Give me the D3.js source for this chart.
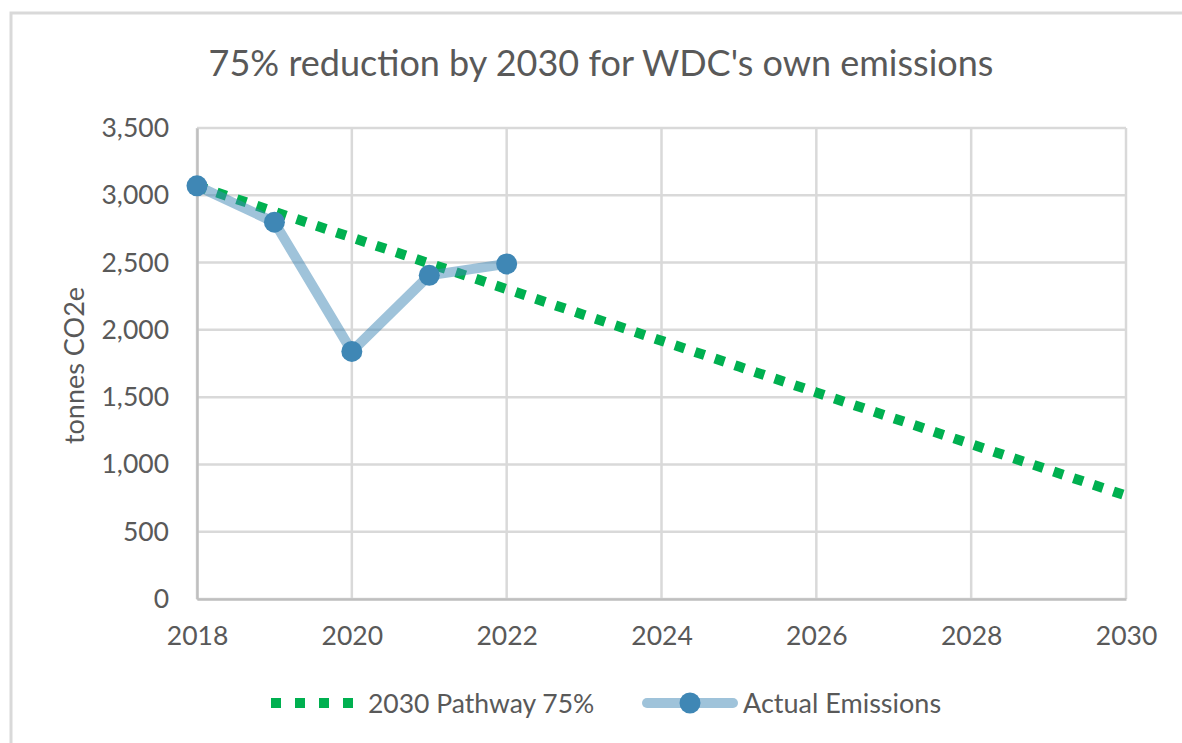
<!DOCTYPE html>
<html><head><meta charset="utf-8">
<script src="https://cdn.jsdelivr.net/npm/d3@7"></script>
<style>html,body{margin:0;padding:0;background:#fff;}svg{display:block;}</style>
</head><body>
<svg id="chart" width="1182" height="743"></svg>
<script>
const years = [2018,2019,2020,2021,2022,2023,2024,2025,2026,2027,2028,2029,2030];
const pathwayValues = [3070,2878,2686,2494,2303,2111,1919,1727,1535,1343,1151,960,768];
const actualYears = [2018,2019,2020,2021,2022];
const actualValues = [3070,2800,1840,2405,2490];
const yTicks = [0,500,1000,1500,2000,2500,3000,3500];
const xTicks = [2018,2020,2022,2024,2026,2028,2030];
const title = "75% reduction by 2030 for WDC's own emissions";
const yTitle = "tonnes CO2e";
const seriesNames = ["2030 Pathway 75%","Actual Emissions"];

const font = "Lato,'Open Sans',sans-serif";
const svg = d3.select("#chart");
const L = 197, R = 1126, T = 128, B = 599;
const x = d3.scaleLinear().domain([2018,2030]).range([L,R]);
const y = d3.scaleLinear().domain([0,3500]).range([B,T]);

// outer frame
svg.append("rect").attr("x",11).attr("y",13).attr("width",1200).attr("height",800)
  .attr("fill","#fff").attr("stroke","#d9d9d9").attr("stroke-width",3);

// title
svg.append("text").attr("x",601).attr("y",76).attr("text-anchor","middle")
  .attr("font-family",font).attr("font-size",36).attr("fill","#595959").text(title);

// grid
svg.append("g").selectAll("line").data(yTicks).join("line")
  .attr("x1",L).attr("x2",R).attr("y1",d=>y(d)).attr("y2",d=>y(d))
  .attr("stroke","#d9d9d9").attr("stroke-width",2.5);
svg.append("g").selectAll("line").data(xTicks).join("line")
  .attr("x1",d=>x(d)).attr("x2",d=>x(d)).attr("y1",T).attr("y2",B)
  .attr("stroke","#d9d9d9").attr("stroke-width",2.5);

// y axis labels
const yAxis = d3.axisLeft(y).tickValues(yTicks).tickFormat(d3.format(",")).tickSize(0).tickPadding(28);
const gy = svg.append("g").attr("transform",`translate(${L},0)`).call(yAxis);
gy.select(".domain").attr("stroke","#bfbfbf").attr("stroke-width",2.5);
gy.selectAll("text").attr("font-family",font).attr("font-size",26.5).attr("fill","#595959");

const xAxis = d3.axisBottom(x).tickValues(xTicks).tickFormat(d3.format("d")).tickSize(0).tickPadding(27);
const gx = svg.append("g").attr("transform",`translate(0,${B})`).call(xAxis);
gx.select(".domain").attr("stroke","#bfbfbf").attr("stroke-width",2.5);
gx.selectAll("text").attr("font-family",font).attr("font-size",26.5).attr("fill","#595959");

// y title
svg.append("text").attr("transform",`translate(84,${(T+B)/2+2}) rotate(-90)`)
  .attr("text-anchor","middle").attr("font-family",font).attr("font-size",27)
  .attr("fill","#595959").text(yTitle);

// pathway
const line = d3.line().x(d=>x(d[0])).y(d=>y(d[1]));
svg.append("path").datum(years.map((yr,i)=>[yr,pathwayValues[i]]))
  .attr("d",line).attr("fill","none").attr("stroke","#00b050")
  .attr("stroke-width",10).attr("stroke-dasharray","10,11");

// actual
const act = actualYears.map((yr,i)=>[yr,actualValues[i]]);
svg.append("path").datum(act).attr("d",line).attr("fill","none")
  .attr("stroke","#3f87b5").attr("stroke-opacity",0.5).attr("stroke-width",10)
  .attr("stroke-linejoin","round").attr("stroke-linecap","round");
svg.append("g").selectAll("circle").data(act).join("circle")
  .attr("cx",d=>x(d[0])).attr("cy",d=>y(d[1])).attr("r",10.5).attr("fill","#3f87b5");

// legend
const ly = 703;
svg.append("g").selectAll("rect").data([0,1,2,3]).join("rect")
  .attr("x",d=>271+d*24).attr("y",ly-5).attr("width",10).attr("height",10).attr("fill","#00b050");
svg.append("text").attr("x",368).attr("y",ly+10).attr("font-family",font).attr("font-size",26.5)
  .attr("fill","#595959").text(seriesNames[0]);
svg.append("line").attr("x1",647).attr("x2",733).attr("y1",ly).attr("y2",ly)
  .attr("stroke","#3f87b5").attr("stroke-opacity",0.5).attr("stroke-width",10).attr("stroke-linecap","round");
svg.append("circle").attr("cx",690).attr("cy",ly).attr("r",10.5).attr("fill","#3f87b5");
svg.append("text").attr("x",743).attr("y",ly+10).attr("font-family",font).attr("font-size",27)
  .attr("fill","#595959").text(seriesNames[1]);
</script>
</body></html>
